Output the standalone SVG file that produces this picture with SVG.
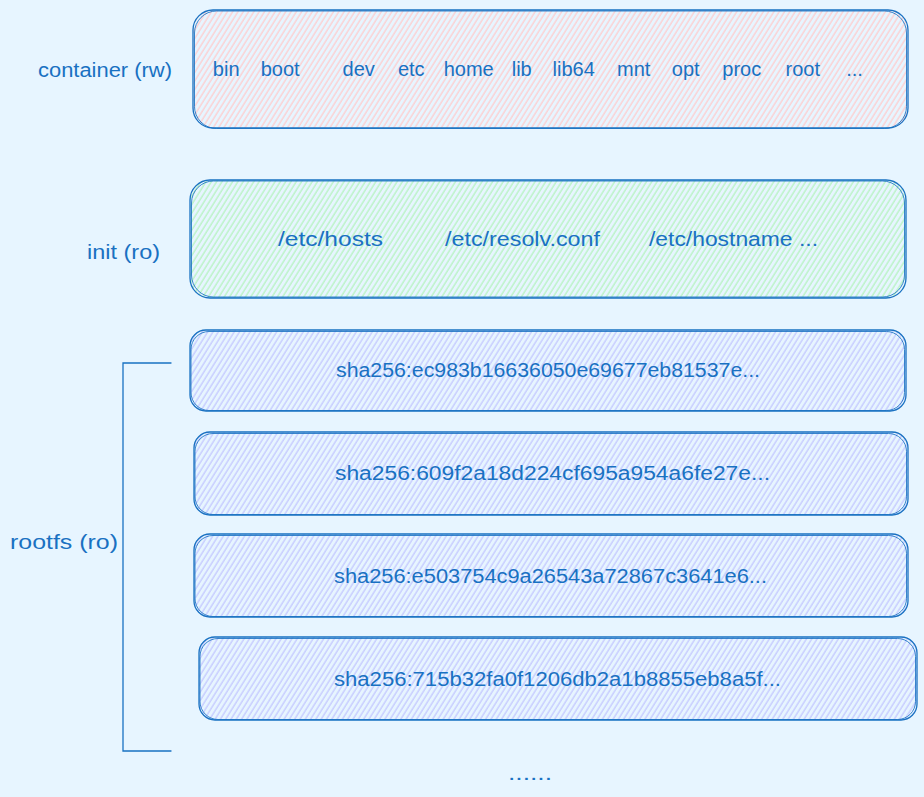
<svg xmlns="http://www.w3.org/2000/svg" width="924" height="797" viewBox="0 0 924 797">
  <defs>
    <pattern id="hPink" width="4.5" height="10" patternUnits="userSpaceOnUse" patternTransform="rotate(32)">
      <line x1="1" y1="0" x2="1" y2="10" stroke="#ffc9c9" stroke-width="1.2"/>
    </pattern>
    <pattern id="hGreen" width="4.5" height="10" patternUnits="userSpaceOnUse" patternTransform="rotate(32)">
      <line x1="1" y1="0" x2="1" y2="10" stroke="#b2f2bb" stroke-width="1.2"/>
    </pattern>
    <pattern id="hViolet" width="4.5" height="10" patternUnits="userSpaceOnUse" patternTransform="rotate(32)">
      <line x1="1" y1="0" x2="1" y2="10" stroke="#c0c4ff" stroke-width="1.2"/>
    </pattern>
  </defs>
  <style>
    .bg { fill: #e7f5ff; }
    .edge { fill: none; stroke: #1971c2; stroke-width: 1.3; stroke-linecap: round; }
    .edge2 { fill: none; stroke: #1971c2; stroke-width: 1; stroke-opacity: 0.85; }
    .t { font-family: "Liberation Sans", Arial, sans-serif; font-size: 20px; fill: #1971c2; }
    .w { font-family: "Liberation Sans", Arial, sans-serif; font-size: 20px; fill: #1971c2; text-anchor: middle; }
    .lbl { font-family: "Liberation Sans", Arial, sans-serif; font-size: 20px; fill: #1971c2; text-anchor: start; }
  </style>
  <rect class="bg" x="0" y="0" width="924" height="797"/>

  <g id="container">
    <rect x="193" y="10" width="715" height="118" rx="20" fill="url(#hPink)"/>
    <rect class="edge" x="193" y="10" width="715" height="118" rx="20"/>
    <rect class="edge2" x="194.5" y="11" width="712" height="117.5" rx="22"/>
    <text class="w" y="76">
      <tspan x="229">bin</tspan>
      <tspan x="283">boot</tspan>
      <tspan x="361.5">dev</tspan>
      <tspan x="414">etc</tspan>
      <tspan x="471.5">home</tspan>
      <tspan x="524.5">lib</tspan>
      <tspan x="576.5">lib64</tspan>
      <tspan x="636.5">mnt</tspan>
      <tspan x="688.5">opt</tspan>
      <tspan x="744.5">proc</tspan>
      <tspan x="805.5">root</tspan>
      <tspan x="854.5">...</tspan>
    </text>
  </g>
  <g id="container-label">
    <text class="lbl" x="38" y="77" textLength="134" lengthAdjust="spacingAndGlyphs">container (rw)</text>
  </g>

  <g id="init">
    <rect x="190" y="180" width="716" height="118" rx="20" fill="url(#hGreen)"/>
    <rect class="edge" x="190" y="180" width="716" height="118" rx="20"/>
    <rect class="edge2" x="191.5" y="181" width="713" height="116" rx="22"/>
    <text class="t" y="246">
      <tspan x="278" textLength="105" lengthAdjust="spacingAndGlyphs">/etc/hosts</tspan>
      <tspan x="445" textLength="155" lengthAdjust="spacingAndGlyphs">/etc/resolv.conf</tspan>
      <tspan x="649" textLength="169" lengthAdjust="spacingAndGlyphs">/etc/hostname ...</tspan>
    </text>
  </g>
  <g id="init-label">
    <text class="lbl" x="87" y="259" textLength="73" lengthAdjust="spacingAndGlyphs">init (ro)</text>
  </g>

  <g id="layer1">
    <rect x="190" y="330" width="716" height="81" rx="16" fill="url(#hViolet)"/>
    <rect class="edge" x="190" y="330" width="716" height="81" rx="16"/>
    <rect class="edge2" x="191" y="331.5" width="713.5" height="79" rx="18"/>
    <text class="t" x="336" y="377" textLength="424" lengthAdjust="spacingAndGlyphs">sha256:ec983b16636050e69677eb81537e...</text>
  </g>
  <g id="layer2">
    <rect x="194" y="432" width="714" height="83" rx="16" fill="url(#hViolet)"/>
    <rect class="edge" x="194" y="432" width="714" height="83" rx="16"/>
    <rect class="edge2" x="195" y="433.5" width="711.5" height="81" rx="18"/>
    <text class="t" x="335" y="480" textLength="435" lengthAdjust="spacingAndGlyphs">sha256:609f2a18d224cf695a954a6fe27e...</text>
  </g>
  <g id="layer3">
    <rect x="194" y="534" width="714" height="83" rx="16" fill="url(#hViolet)"/>
    <rect class="edge" x="194" y="534" width="714" height="83" rx="16"/>
    <rect class="edge2" x="195" y="535.5" width="711.5" height="81" rx="18"/>
    <text class="t" x="334" y="583" textLength="433" lengthAdjust="spacingAndGlyphs">sha256:e503754c9a26543a72867c3641e6...</text>
  </g>
  <g id="layer4">
    <rect x="199" y="637" width="718" height="83" rx="16" fill="url(#hViolet)"/>
    <rect class="edge" x="199" y="637" width="718" height="83" rx="16"/>
    <rect class="edge2" x="200" y="638.5" width="715.5" height="81" rx="18"/>
    <text class="t" x="334" y="686" textLength="447" lengthAdjust="spacingAndGlyphs">sha256:715b32fa0f1206db2a1b8855eb8a5f...</text>
  </g>

  <g id="connectors">
    <path class="edge" d="M171 363 L123 363 L123 751 L171 751"/>
  </g>
  <g id="rootfs-label">
    <text class="lbl" x="10" y="549" textLength="108" lengthAdjust="spacingAndGlyphs">rootfs (ro)</text>
  </g>
  <g id="more">
    <text class="t" x="508" y="780" textLength="44" lengthAdjust="spacingAndGlyphs">......</text>
  </g>
</svg>
